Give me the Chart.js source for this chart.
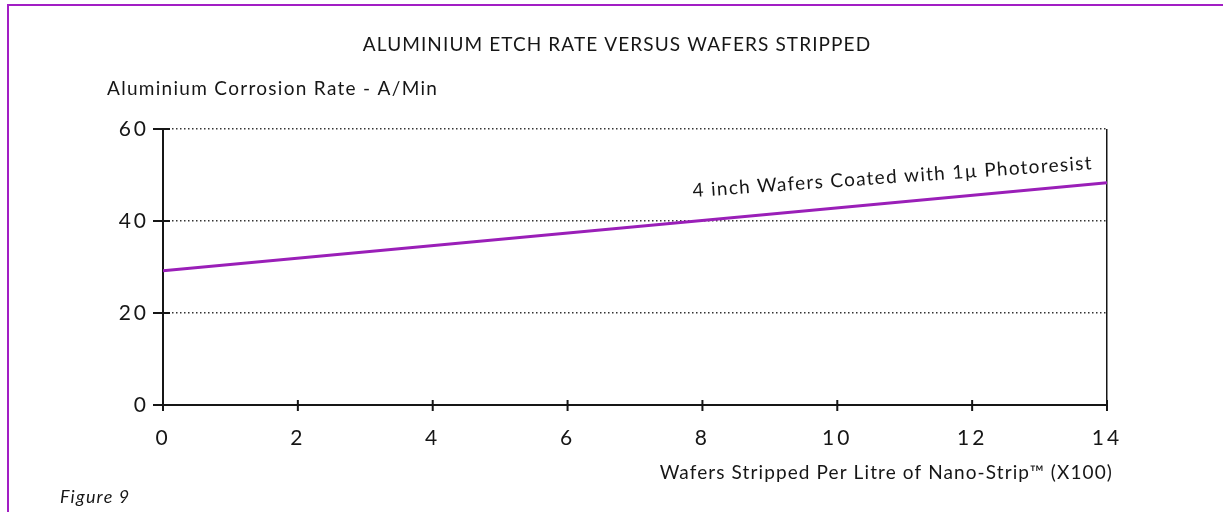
<!DOCTYPE html>
<html>
<head>
<meta charset="utf-8">
<script src="https://cdn.jsdelivr.net/npm/chart.js@4.4.1/dist/chart.umd.min.js"></script>
<style>
html, body { margin:0; padding:0; background:#fff; }
#wrap { position:relative; width:1223px; height:512px; overflow:hidden; }
#frame {
  position:absolute; left:7px; top:4px; right:-10px; bottom:-10px;
  border-top:2px solid #a21ec4; border-left:2px solid #a21ec4;
  pointer-events:none;
}
</style>
</head>
<body>
<div id="wrap">
  <canvas id="etch" width="1223" height="512"></canvas>
  <div id="frame"></div>
</div>

<script>
// values
var wafers = [0, 14];          // x100 wafers per litre
var etch_rate = [29.2, 48.3];  // A/min
var x_ticks = [0, 2, 4, 6, 8, 10, 12, 14];
var y_ticks = [0, 20, 40, 60];

var chart_title = "ALUMINIUM ETCH RATE VERSUS WAFERS STRIPPED";
var y_label = "Aluminium Corrosion Rate - A/Min";
var x_label = "Wafers Stripped Per Litre of Nano-Strip\u2122 (X100)";
var line_label = "4 inch Wafers Coated with 1\u00b5 Photoresist";
var fig_label = "Figure 9";

var FONT = "Lato, 'Open Sans', sans-serif";
var INK = "#161616";
</script>

<script>
// wider spacing for tick labels (the print uses a wide geometric face)
var spacing_plugin = {
  id: 'spacing_plugin',
  beforeDraw: function(chart) { chart.ctx.letterSpacing = '3px'; }
};

// texts and crossing tick marks
var text_plugin = {
  id: 'text_plugin',
  afterDraw: function(chart) {
    var ctx = chart.ctx;
    var xs = chart.scales.x;
    var ys = chart.scales.y;
    ctx.save();

    ctx.strokeStyle = INK;
    ctx.lineWidth = 2;
    y_ticks.forEach(function(v) {
      var p = ys.getPixelForValue(v);
      ctx.beginPath();
      ctx.moveTo(xs.left - 10, p);
      ctx.lineTo(xs.left + 7, p);
      ctx.stroke();
    });
    x_ticks.forEach(function(v) {
      var p = xs.getPixelForValue(v);
      ctx.beginPath();
      ctx.moveTo(p, ys.bottom - 5);
      ctx.lineTo(p, ys.bottom + 6);
      ctx.stroke();
    });

    ctx.fillStyle = INK;
    ctx.textBaseline = 'middle';

    ctx.font = "19px " + FONT;
    ctx.letterSpacing = '1.1px';
    ctx.textAlign = 'center';
    ctx.fillText(chart_title, 617, 45);

    ctx.letterSpacing = '1.3px';
    ctx.textAlign = 'left';
    ctx.fillText(y_label, 107, 89);

    ctx.letterSpacing = '1.1px';
    ctx.textAlign = 'right';
    ctx.fillText(x_label, 1113, 473);

    ctx.font = "italic 18px " + FONT;
    ctx.letterSpacing = '1.2px';
    ctx.textAlign = 'left';
    ctx.fillText(fig_label, 60, 497);

    // label along the line
    var lx = xs.getPixelForValue(7.86);
    var ly = ys.getPixelForValue(45.2);
    ctx.translate(lx, ly);
    ctx.rotate(-4.0 * Math.PI / 180);
    ctx.font = "19px " + FONT;
    ctx.letterSpacing = '1.3px';
    ctx.textAlign = 'left';
    ctx.textBaseline = 'alphabetic';
    ctx.fillText(line_label, 0, 0);

    ctx.restore();
    ctx.letterSpacing = '0px';
  }
};

var points = wafers.map(function(w, i) { return {x: w, y: etch_rate[i]}; });

var chart_conf = {
  type: 'line',
  data: {
    datasets: [{
      data: points,
      borderColor: '#9a1fb8',
      borderWidth: 3,
      pointRadius: 0,
      fill: false,
      tension: 0
    }]
  },
  options: {
    responsive: false,
    animation: false,
    layout: { padding: { left: 63, right: 116, top: 129, bottom: 0 } },
    plugins: {
      legend: { display: false },
      tooltip: { enabled: false },
      title: { display: false }
    },
    scales: {
      x: {
        type: 'linear',
        min: 0, max: 14,
        afterFit: function(s) { s.height = 107; },
        afterBuildTicks: function(s) { s.ticks = x_ticks.map(function(v) { return {value: v}; }); },
        ticks: {
          padding: 21,
          color: INK,
          font: { family: FONT, size: 21 }
        },
        grid: {
          drawTicks: false,
          lineWidth: 1.5,
          color: function(c) { return (c.tick && c.tick.value === 14) ? INK : 'rgba(0,0,0,0)'; }
        },
        border: { display: true, color: INK, width: 2 }
      },
      y: {
        type: 'linear',
        min: 0, max: 60,
        afterFit: function(s) { s.width = 100; },
        afterBuildTicks: function(s) { s.ticks = y_ticks.map(function(v) { return {value: v}; }); },
        ticks: {
          padding: 14,
          color: INK,
          font: { family: FONT, size: 21 }
        },
        grid: {
          drawTicks: false,
          lineWidth: 1.4,
          color: '#333'
        },
        border: { display: true, color: INK, width: 2, dash: [1.5, 2.5] }
      }
    }
  },
  plugins: [spacing_plugin, text_plugin]
};

var chart1 = new Chart(document.getElementById("etch"), chart_conf);
</script>
</body>
</html>
